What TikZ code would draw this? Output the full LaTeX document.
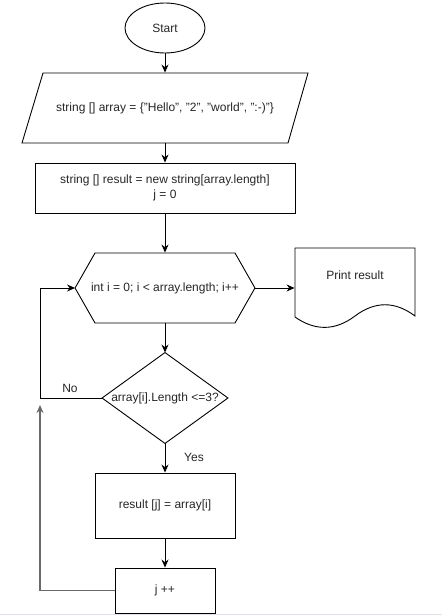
\documentclass[tikz,border=0pt]{standalone}
\usepackage{fontspec}
\setmainfont{Liberation Sans}
\usetikzlibrary{arrows.meta,shapes.geometric}
\definecolor{backgray}{RGB}{105,105,105}
\definecolor{edgegray}{RGB}{222,226,232}
\begin{document}
\begin{tikzpicture}[x=1pt,y=-1pt,
  font=\fontsize{12}{15}\selectfont,
  line width=0.9pt,
  every node/.style={inner sep=0pt, text=black!85},
  outline/.style={draw, line width=0.9pt},
  flow/.style={draw, -{Stealth[length=8pt,width=7pt]}},
  backflow/.style={draw=backgray, line width=1.3pt, -{Stealth[length=8pt,width=7pt]}}]
\useasboundingbox (0,0) rectangle (442,615);

% start terminal
\node[ellipse, outline, minimum width=80pt, minimum height=50pt] (start) at (165,28) {Start};

% input parallelogram
\node[minimum width=266pt, minimum height=70pt] (input) at (165,108)
  {string [] array = \{\char34 Hello\char34, \char34 2\char34, \char34 world\char34, \char34:-)\char34\}};
\draw[outline] (43,73) -- (308,73) -- (288,143) -- (22,143) -- cycle;

% initialisation
\node[outline, minimum width=260pt, minimum height=50pt, align=center] (init) at (165,188)
  {string [] result = new string[array.length]\\ j = 0};

% loop hexagon
\node[minimum width=179pt, minimum height=70pt] (loop) at (165,288)
  {int i = 0; i < array.length; i++};
\draw[outline] (loop.west) -- (95,253) -- (235,253) -- (loop.east) -- (235,323) -- (95,323) -- cycle;

% output document
\node[minimum width=120pt, minimum height=80pt] (print) at (355,288) {};
\node (printtext) at (355,275) {Print result};
\draw[outline] (295,317) -- (295,248) -- (415,248) -- (415,316)
  .. controls (395,301) and (375,301) .. (355,316)
  .. controls (335,331) and (315,331) .. (295,317);

% decision
\node[minimum width=125pt, minimum height=90pt] (cond) at (165,398) {array[i].Length <=3?};
\draw[outline] (cond.north) -- (cond.east) -- (cond.south) -- (cond.west) -- cycle;

% assignment and increment
\node[outline, minimum width=140pt, minimum height=65pt] (assign) at (165,505.5) {result [j] = array[i]};
\node[outline, minimum width=100pt, minimum height=45pt] (inc) at (165,590.5) {j ++};

% labels
\node (no) at (70,388) {No};
\node (yes) at (194,457) {Yes};

% connectors
\coordinate (lx) at (40,0);
\coordinate (backend) at (40,405);
\draw[flow] (start.south) -- (input.north);
\draw[flow] (input.south) -- (init.north);
\draw[flow] (init.south) -- (loop.north);
\draw[flow] (loop.east) -- (print.west);
\draw[flow] (loop.south) -- (cond.north);
\draw[flow] (cond.south) -- (assign.north);
\draw[flow] (assign.south) -- (inc.north);
\draw[flow] (cond.west) -- (cond.west -| lx) |- (loop.west);
\draw[backflow] (inc.west) -| (backend);

% lower edge rule
\draw[edgegray, line width=1pt] (0,614.5) -- (442,614.5);
\end{tikzpicture}
\end{document}
